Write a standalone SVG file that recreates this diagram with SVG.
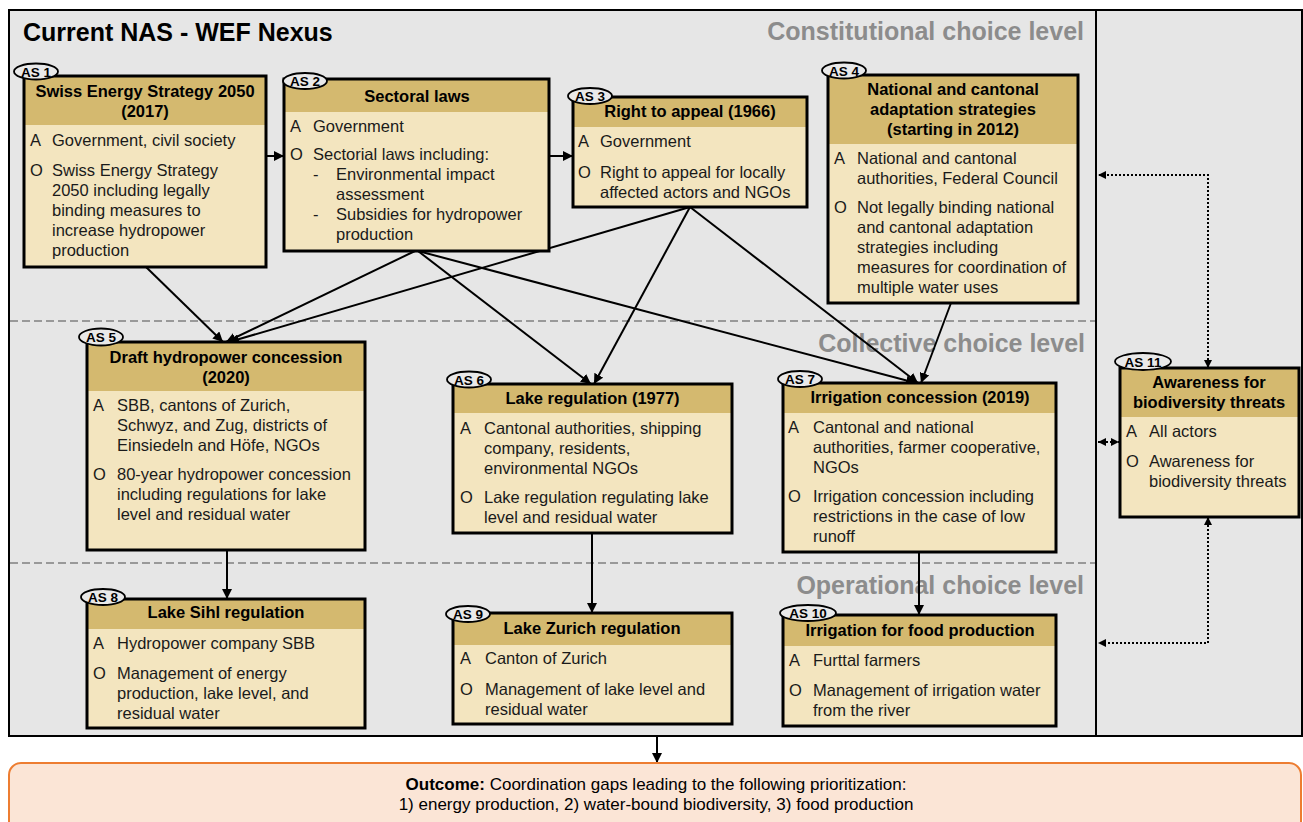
<svg xmlns="http://www.w3.org/2000/svg" width="1303" height="822" viewBox="0 0 1303 822">
<style>
text{font-family:"Liberation Sans",Arial,sans-serif;}
.bx{fill:#f3e5bf;stroke:none;}
.hd{fill:#d4b96f;stroke:none;}
.ol{fill:none;stroke:#000;stroke-width:3;}
.ht{font-size:16.5px;font-weight:bold;fill:#000;text-anchor:middle;}
.t{font-size:16.5px;fill:#1a1a1a;}
.el{fill:#e9e9e9;stroke:#000;stroke-width:1.8;}
.et{font-size:13.5px;font-weight:bold;fill:#000;text-anchor:middle;}
.lvl{font-size:25px;font-weight:bold;fill:#8c8c8c;text-anchor:end;}
.dash{stroke:#999;stroke-width:2;stroke-dasharray:8 4;fill:none;}
.cn{stroke:#000;stroke-width:2;fill:none;marker-end:url(#arr);}
.dt{stroke:#000;stroke-width:2;stroke-dasharray:2 2;fill:none;marker-start:url(#darr);marker-end:url(#darr);}
</style>
<defs>
<marker id="arr" viewBox="0 0 10 10" refX="10" refY="5" markerWidth="10" markerHeight="10" markerUnits="userSpaceOnUse" orient="auto"><path d="M0,0 L10,5 L0,10 z" fill="#000"/></marker>
<marker id="darr" viewBox="0 0 10 10" refX="10" refY="5" markerWidth="8" markerHeight="8" markerUnits="userSpaceOnUse" orient="auto-start-reverse"><path d="M0,0 L10,5 L0,10 z" fill="#000"/></marker>
</defs>

<g id="frame">
<rect x="9" y="10" width="1293" height="726" fill="#e6e6e6" stroke="#000" stroke-width="2"/>
<line x1="1096" y1="10" x2="1096" y2="736" stroke="#000" stroke-width="2"/>
<line class="dash" x1="10" y1="321" x2="1095" y2="321"/>
<line class="dash" x1="10" y1="563" x2="1095" y2="563"/>
<text x="23" y="41" font-size="25" font-weight="bold" fill="#000">Current NAS - WEF Nexus</text>
<text class="lvl" x="1084" y="40">Constitutional choice level</text>
<text class="lvl" x="1085" y="352">Collective choice level</text>
<text class="lvl" x="1084" y="594">Operational choice level</text>
</g>

<g id="connectors">
<line class="cn" x1="266" y1="156" x2="284" y2="156"/>
<line class="cn" x1="549" y1="156" x2="573" y2="156"/>
<line class="cn" x1="146" y1="267" x2="223" y2="342"/>
<line class="cn" x1="415" y1="251" x2="226" y2="342"/>
<line class="cn" x1="690" y1="207" x2="229" y2="342"/>
<line class="cn" x1="418" y1="251" x2="591" y2="384"/>
<line class="cn" x1="690" y1="207" x2="594" y2="384"/>
<line class="cn" x1="418" y1="251" x2="916" y2="383"/>
<line class="cn" x1="690" y1="207" x2="918" y2="383"/>
<line class="cn" x1="951" y1="303" x2="921" y2="383"/>
<line class="cn" x1="227" y1="550" x2="227" y2="599"/>
<line class="cn" x1="592" y1="533" x2="592" y2="613"/>
<line class="cn" x1="919" y1="553" x2="919" y2="615"/>
<line class="cn" x1="657" y1="736" x2="657" y2="763"/>
<path class="dt" d="M1208,368 V175 H1098"/>
<path class="dt" d="M1208,517 V643 H1098"/>
<path class="dt" d="M1098,442 H1119"/>
</g>

<g id="as1">
<rect class="bx" x="24" y="76" width="242" height="191"/>
<rect class="hd" x="24" y="76" width="242" height="49"/>
<rect class="ol" x="24" y="76" width="242" height="191"/>
<text class="ht" x="145" y="97">Swiss Energy Strategy 2050</text>
<text class="ht" x="145" y="117">(2017)</text>
<text class="t" x="30" y="146">A</text><text class="t" x="52" y="146">Government, civil society</text>
<text class="t" x="30" y="176">O</text>
<text class="t" x="52" y="176">Swiss Energy Strategy</text>
<text class="t" x="52" y="196">2050 including legally</text>
<text class="t" x="52" y="216">binding measures to</text>
<text class="t" x="52" y="236">increase hydropower</text>
<text class="t" x="52" y="256">production</text>
<ellipse class="el" cx="36" cy="71.5" rx="22" ry="8"/><text class="et" x="36" y="76.5">AS 1</text>
</g>

<g id="as2">
<rect class="bx" x="284" y="79" width="265" height="172"/>
<rect class="hd" x="284" y="79" width="265" height="33"/>
<rect class="ol" x="284" y="79" width="265" height="172"/>
<text class="ht" x="417" y="102">Sectoral laws</text>
<text class="t" x="290" y="132">A</text><text class="t" x="313" y="132">Government</text>
<text class="t" x="290" y="160">O</text><text class="t" x="313" y="160">Sectorial laws including:</text>
<text class="t" x="313" y="180">-</text><text class="t" x="336" y="180">Environmental impact</text>
<text class="t" x="336" y="200">assessment</text>
<text class="t" x="313" y="220">-</text><text class="t" x="336" y="220">Subsidies for hydropower</text>
<text class="t" x="336" y="240">production</text>
<ellipse class="el" cx="305" cy="81" rx="22" ry="8"/><text class="et" x="305" y="86">AS 2</text>
</g>

<g id="as3">
<rect class="bx" x="573" y="97" width="234" height="110"/>
<rect class="hd" x="573" y="97" width="234" height="30"/>
<rect class="ol" x="573" y="97" width="234" height="110"/>
<text class="ht" x="690" y="117">Right to appeal (1966)</text>
<text class="t" x="578" y="147">A</text><text class="t" x="600" y="147">Government</text>
<text class="t" x="578" y="178">O</text><text class="t" x="600" y="178">Right to appeal for locally</text>
<text class="t" x="600" y="198">affected actors and NGOs</text>
<ellipse class="el" cx="590" cy="96" rx="22" ry="8"/><text class="et" x="590" y="101">AS 3</text>
</g>

<g id="as4">
<rect class="bx" x="828" y="75" width="250" height="228"/>
<rect class="hd" x="828" y="75" width="250" height="69"/>
<rect class="ol" x="828" y="75" width="250" height="228"/>
<text class="ht" x="953" y="95">National and cantonal</text>
<text class="ht" x="953" y="115">adaptation strategies</text>
<text class="ht" x="953" y="135">(starting in 2012)</text>
<text class="t" x="834" y="164">A</text><text class="t" x="857" y="164">National and cantonal</text>
<text class="t" x="857" y="184">authorities, Federal Council</text>
<text class="t" x="834" y="213">O</text><text class="t" x="857" y="213">Not legally binding national</text>
<text class="t" x="857" y="233">and cantonal adaptation</text>
<text class="t" x="857" y="253">strategies including</text>
<text class="t" x="857" y="273">measures for coordination of</text>
<text class="t" x="857" y="293">multiple water uses</text>
<ellipse class="el" cx="844" cy="70.5" rx="22" ry="8"/><text class="et" x="844" y="75.5">AS 4</text>
</g>

<g id="as5">
<rect class="bx" x="87" y="342" width="278" height="208"/>
<rect class="hd" x="87" y="342" width="278" height="49"/>
<rect class="ol" x="87" y="342" width="278" height="208"/>
<text class="ht" x="226" y="363">Draft hydropower concession</text>
<text class="ht" x="226" y="383">(2020)</text>
<text class="t" x="93" y="411">A</text><text class="t" x="117" y="411">SBB, cantons of Zurich,</text>
<text class="t" x="117" y="431">Schwyz, and Zug, districts of</text>
<text class="t" x="117" y="451">Einsiedeln and Höfe, NGOs</text>
<text class="t" x="93" y="480">O</text><text class="t" x="117" y="480">80-year hydropower concession</text>
<text class="t" x="117" y="500">including regulations for lake</text>
<text class="t" x="117" y="520">level and residual water</text>
<ellipse class="el" cx="101" cy="337" rx="22" ry="8.5"/><text class="et" x="101" y="342">AS 5</text>
</g>

<g id="as6">
<rect class="bx" x="453" y="384" width="279" height="149"/>
<rect class="hd" x="453" y="384" width="279" height="29"/>
<rect class="ol" x="453" y="384" width="279" height="149"/>
<text class="ht" x="592.5" y="404">Lake regulation (1977)</text>
<text class="t" x="460" y="434">A</text><text class="t" x="484" y="434">Cantonal authorities, shipping</text>
<text class="t" x="484" y="454">company, residents,</text>
<text class="t" x="484" y="474">environmental NGOs</text>
<text class="t" x="460" y="503">O</text><text class="t" x="484" y="503">Lake regulation regulating lake</text>
<text class="t" x="484" y="523">level and residual water</text>
<ellipse class="el" cx="469" cy="379.5" rx="22" ry="8"/><text class="et" x="469" y="384.5">AS 6</text>
</g>

<g id="as7">
<rect class="bx" x="783" y="383" width="273" height="169"/>
<rect class="hd" x="783" y="383" width="273" height="30"/>
<rect class="ol" x="783" y="383" width="273" height="169"/>
<text class="ht" x="920" y="403">Irrigation concession (2019)</text>
<text class="t" x="788" y="433">A</text><text class="t" x="813" y="433">Cantonal and national</text>
<text class="t" x="813" y="453">authorities, farmer cooperative,</text>
<text class="t" x="813" y="473">NGOs</text>
<text class="t" x="788" y="502">O</text><text class="t" x="813" y="502">Irrigation concession including</text>
<text class="t" x="813" y="522">restrictions in the case of low</text>
<text class="t" x="813" y="542">runoff</text>
<ellipse class="el" cx="800" cy="379" rx="22" ry="8"/><text class="et" x="800" y="384">AS 7</text>
</g>

<g id="as8">
<rect class="bx" x="87" y="599" width="278" height="129"/>
<rect class="hd" x="87" y="599" width="278" height="30"/>
<rect class="ol" x="87" y="599" width="278" height="129"/>
<text class="ht" x="226" y="618">Lake Sihl regulation</text>
<text class="t" x="93" y="649">A</text><text class="t" x="117" y="649">Hydropower company SBB</text>
<text class="t" x="93" y="679">O</text><text class="t" x="117" y="679">Management of energy</text>
<text class="t" x="117" y="699">production, lake level, and</text>
<text class="t" x="117" y="719">residual water</text>
<ellipse class="el" cx="103" cy="597" rx="22" ry="8"/><text class="et" x="103" y="602">AS 8</text>
</g>

<g id="as9">
<rect class="bx" x="453" y="613" width="279" height="111"/>
<rect class="hd" x="453" y="613" width="279" height="32"/>
<rect class="ol" x="453" y="613" width="279" height="111"/>
<text class="ht" x="592" y="634">Lake Zurich regulation</text>
<text class="t" x="460" y="664">A</text><text class="t" x="485" y="664">Canton of Zurich</text>
<text class="t" x="460" y="695">O</text><text class="t" x="485" y="695">Management of lake level and</text>
<text class="t" x="485" y="715">residual water</text>
<ellipse class="el" cx="468" cy="614" rx="22" ry="8"/><text class="et" x="468" y="619">AS 9</text>
</g>

<g id="as10">
<rect class="bx" x="783" y="615" width="273" height="111"/>
<rect class="hd" x="783" y="615" width="273" height="31"/>
<rect class="ol" x="783" y="615" width="273" height="111"/>
<text class="ht" x="920" y="636">Irrigation for food production</text>
<text class="t" x="789" y="666">A</text><text class="t" x="813" y="666">Furttal farmers</text>
<text class="t" x="789" y="696">O</text><text class="t" x="813" y="696">Management of irrigation water</text>
<text class="t" x="813" y="716">from the river</text>
<ellipse class="el" cx="808" cy="613" rx="28" ry="8"/><text class="et" x="808" y="618">AS 10</text>
</g>

<g id="as11">
<rect class="bx" x="1120" y="368" width="179" height="149"/>
<rect class="hd" x="1120" y="368" width="179" height="49"/>
<rect class="ol" x="1120" y="368" width="179" height="149"/>
<text class="ht" x="1209" y="388">Awareness for</text>
<text class="ht" x="1209" y="408">biodiversity threats</text>
<text class="t" x="1126" y="437">A</text><text class="t" x="1149" y="437">All actors</text>
<text class="t" x="1126" y="467">O</text><text class="t" x="1149" y="467">Awareness for</text>
<text class="t" x="1149" y="487">biodiversity threats</text>
<ellipse class="el" cx="1143" cy="361.5" rx="28" ry="8.5"/><text class="et" x="1143" y="366.5">AS 11</text>
</g>

<g id="outcome">
<rect x="9" y="763" width="1292" height="80" rx="12" ry="12" fill="#fbe5d6" stroke="#ed7d31" stroke-width="2"/>
<text x="656" y="790" font-size="17" text-anchor="middle" fill="#000"><tspan font-weight="bold">Outcome:</tspan> Coordination gaps leading to the following prioritization:</text>
<text x="656" y="810" font-size="17" text-anchor="middle" fill="#000">1) energy production, 2) water-bound biodiversity, 3) food production</text>
</g>
</svg>
